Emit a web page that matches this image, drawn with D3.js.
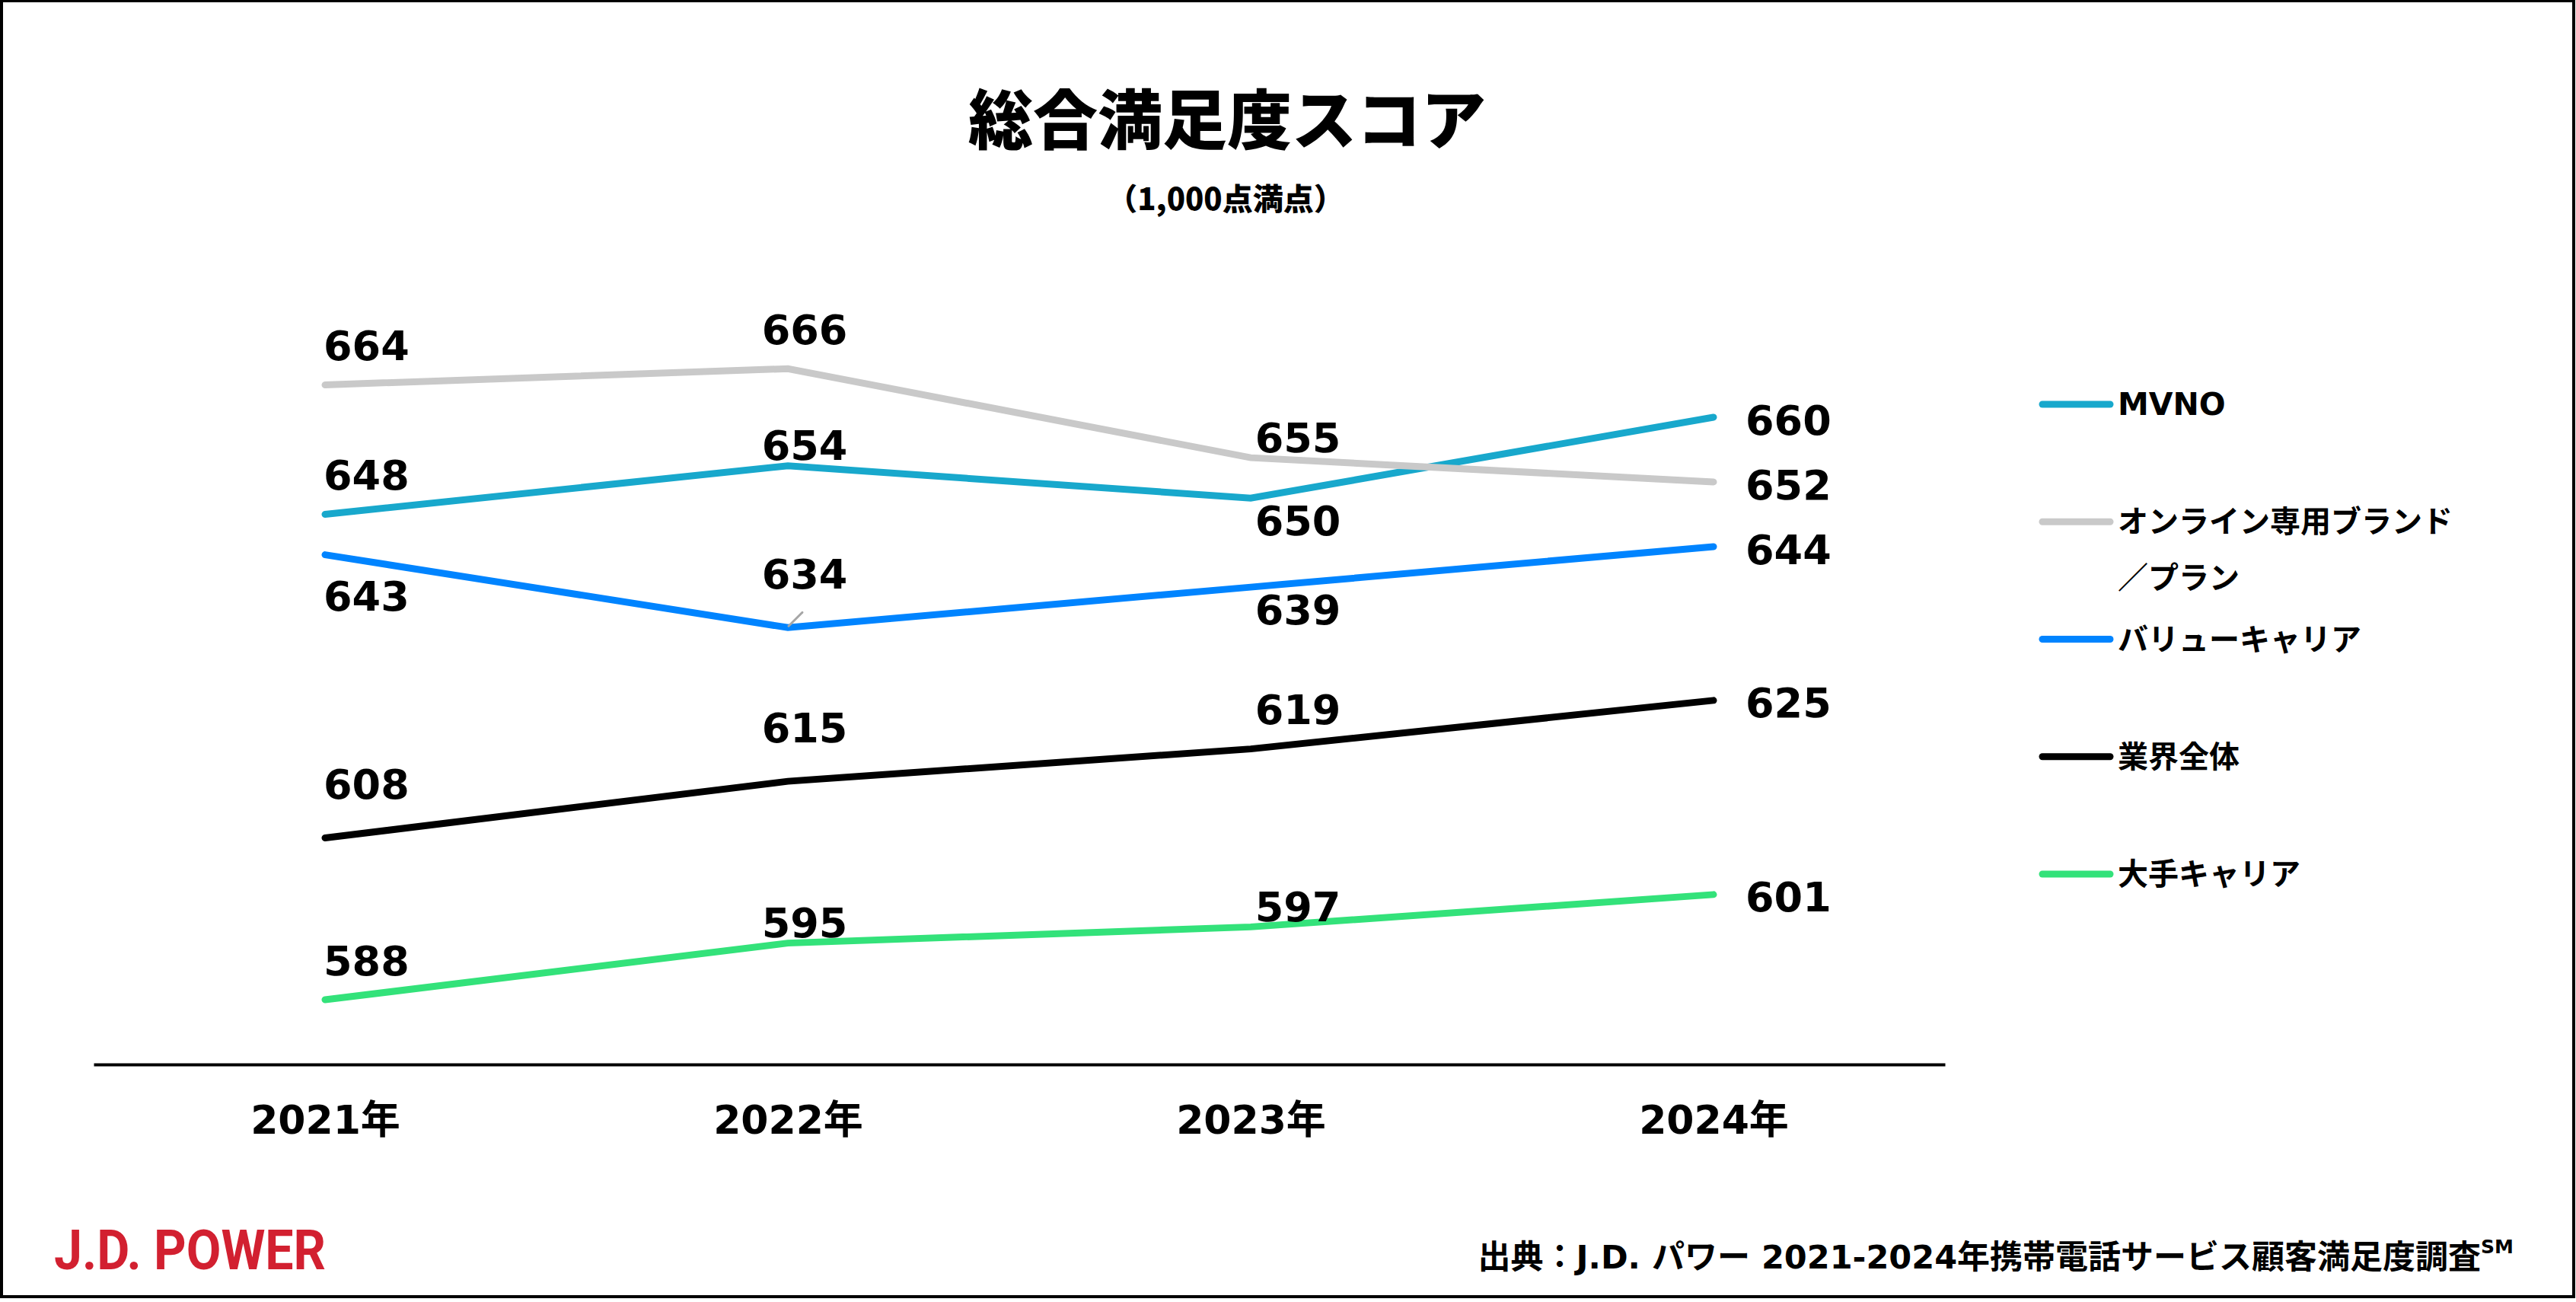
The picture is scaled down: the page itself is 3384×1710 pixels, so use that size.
<!DOCTYPE html>
<html>
<head>
<meta charset="utf-8">
<script src="https://cdn.jsdelivr.net/npm/d3@7"></script>
<style>
    body { margin: 0; background: #fff; }
    text { font-family: "DejaVu Sans", "Noto Sans CJK JP", sans-serif; font-weight: bold; fill: #000; }
</style>
</head>
<body>
<svg id="chart" width="3384" height="1710"></svg>
<script>
//DATA

var years = ["2021年", "2022年", "2023年", "2024年"];
var seriesNames = ["MVNO", "オンライン専用ブランド／プラン", "バリューキャリア", "業界全体", "大手キャリア"];
var mvno = [648, 654, 650, 660];
var online = [664, 666, 655, 652];
var valueCarrier = [643, 634, 639, 644];
var industry = [608, 615, 619, 625];
var majorCarrier = [588, 595, 597, 601];
var colors = ["#18a8cc", "#c9c9c9", "#0084ff", "#000000", "#33e27a"];

//where each value label sits next to its point
var labelPlace = [
    ["up", "near", "down", "right"],
    ["up", "up", "near", "right"],
    ["far", "high", "down", "right"],
    ["high", "high", "up", "right"],
    ["up", "near", "near", "right"]
];

var series = [mvno, online, valueCarrier, industry, majorCarrier].map(function(vals, i) {
    return {name: seriesNames[i], color: colors[i], values: vals, place: labelPlace[i]};
});

//LAYOUT

var svg = d3.select("#chart");
var x = d3.scalePoint().domain(years).range([123, 2555]).padding(0.5);
var y = d3.scaleLinear().domain([580, 680]).range([1398, 335.5]);
var labelDy = {up: -51, near: -26, high: -70, down: 30, far: 55, right: 4};
var colNudge = [-2, 22, 62, 42];

//frame round the whole picture
svg.append("rect")
    .attr("x", 2).attr("y", 1)
    .attr("width", 3379).attr("height", 1702)
    .style("fill", "none").style("stroke", "#000").style("stroke-width", 4);

//title
svg.append("text")
    .attr("x", 1612).attr("y", 151)
    .attr("text-anchor", "middle").attr("dominant-baseline", "central")
    .style("font-family", "'Noto Sans CJK JP'").style("font-weight", 900)
    .style("font-size", "85px")
    .text("総合満足度スコア");

svg.append("text")
    .attr("x", 1610).attr("y", 259)
    .attr("text-anchor", "middle").attr("dominant-baseline", "central")
    .style("font-family", "'Noto Sans CJK JP'").style("font-weight", 900)
    .style("font-size", "40px")
    .text("（1,000点満点）");

//x axis
var xAxis = svg.append("g")
    .attr("transform", "translate(0,1398)")
    .call(d3.axisBottom(x).tickSize(0).tickSizeOuter(0));
xAxis.select(".domain").style("stroke", "#000").style("stroke-width", 4);
xAxis.selectAll(".tick text")
    .attr("y", 73).attr("dy", null).attr("dominant-baseline", "central")
    .style("font-family", "'DejaVu Sans', 'Noto Sans CJK JP'")
    .style("font-size", "52px").style("font-weight", "bold").style("fill", "#000");

//lines
var line = d3.line()
    .x(function(d, i) { return x(years[i]); })
    .y(function(d) { return y(d); });

svg.append("g")
    .selectAll("path")
    .data(series)
    .enter().append("path")
    .attr("d", function(d) { return line(d.values); })
    .style("fill", "none")
    .style("stroke", function(d) { return d.color; })
    .style("stroke-width", 9)
    .style("stroke-linecap", "round");

//small grey leader left over near the 634 label
svg.append("line")
    .attr("x1", x(years[1]) + 1).attr("y1", y(valueCarrier[1]) - 2)
    .attr("x2", x(years[1]) + 19).attr("y2", y(valueCarrier[1]) - 20)
    .style("stroke", "#a6a6a6").style("stroke-width", 3).style("stroke-linecap", "round");

//value labels
series.forEach(function(s) {
    svg.append("g")
        .selectAll("text")
        .data(s.values)
        .enter().append("text")
        .attr("x", function(d, i) { return x(years[i]) + colNudge[i]; })
        .attr("y", function(d, i) { return y(d) + labelDy[s.place[i]]; })
        .attr("text-anchor", function(d, i) { return (i === 0 || i === years.length - 1) ? "start" : "middle"; })
        .attr("dominant-baseline", "central")
        .style("font-size", "54px")
        .text(function(d) { return d; });
});

//legend
var legend = svg.append("g")
    .selectAll("g")
    .data(series)
    .enter().append("g")
    .attr("transform", function(d, i) { return "translate(2683," + (531 + i * 154.25) + ")"; });

legend.append("line")
    .attr("x1", 0).attr("x2", 89)
    .style("stroke", function(d) { return d.color; })
    .style("stroke-width", 9)
    .style("stroke-linecap", "round");

legend.append("text")
    .attr("x", 99)
    .attr("dominant-baseline", "central")
    .style("font-size", function(d) { return /^[A-Z]+$/.test(d.name) ? "41px" : "40px"; })
    .each(function(d) {
        //the long name breaks after ブランド
        var parts = d.name.split("／");
        var t = d3.select(this);
        t.append("tspan").attr("x", 99).attr("y", 0).text(parts[0]);
        if (parts.length > 1) {
            t.append("tspan").attr("x", 99).attr("y", 74).text("／" + parts[1]);
        }
    });

//logo
svg.append("text")
    .attr("x", 71).attr("y", 1667)
    .attr("textLength", 357).attr("lengthAdjust", "spacingAndGlyphs")
    .style("font-family", "Roboto").style("font-size", "73px").style("font-weight", "bold")
    .style("fill", "#d22030")
    .text("J.D. POWER");

//source note
var note = svg.append("text")
    .attr("x", 3302).attr("y", 1651)
    .attr("text-anchor", "end").attr("dominant-baseline", "central")
    .style("font-size", "43px");
note.append("tspan").text("出典：J.D. パワー 2021-2024年携帯電話サービス顧客満足度調査");
note.append("tspan").attr("dy", -14).style("font-size", "25px").text("SM");
</script>
</body>
</html>
